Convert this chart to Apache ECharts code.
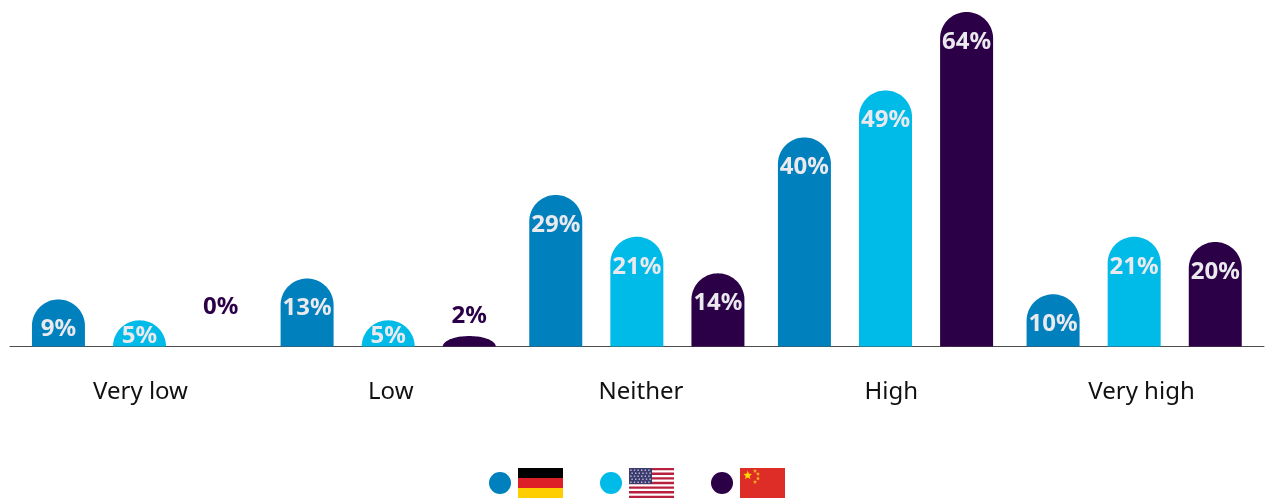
<!DOCTYPE html>
<html>
<head>
<meta charset="utf-8">
<style>html,body{margin:0;padding:0;background:#fff}#chart{width:1265px;height:498px}</style>
<script src="https://cdn.jsdelivr.net/npm/echarts@6/dist/echarts.min.js"></script>
</head>
<body>
<div id="chart"></div>
<script>
const categories = ['Very low', 'Low', 'Neither', 'High', 'Very high'];
const germany = [9, 13, 29, 40, 10];
const usa = [5, 5, 21, 49, 21];
const china = [0, 2, 14, 64, 20];
const seriesNames = ['Germany', 'USA', 'China'];
const seriesColors = ['#0080BC', '#00BAE8', '#2C0047'];

const FONT = '"Noto Sans", sans-serif';
const LABEL_LIGHT = '#E9E9EE';
const BAR_WIDTH = 53;

// Tall bars carry the figure inside the cap; short ones sit lower or move above the bar.
function labelPlacement(value, topY, baseY, color) {
  if (value === 0) return { y: baseY - 39, fill: color };
  if (value < 5) return { y: topY - 20, fill: color };
  if (value === 5) return { y: baseY - 10.5, fill: LABEL_LIGHT };
  return { y: topY + 30, fill: LABEL_LIGHT };
}

// Bar with an elliptical dome: the cap flattens when the bar is shorter than its half width.
function domePoints(left, right, topY, baseY) {
  const rx = (right - left) / 2;
  const ry = Math.min(rx, baseY - topY);
  const cx = (left + right) / 2;
  const pts = [[left, baseY]];
  for (let i = 0; i <= 48; i++) {
    const a = Math.PI - i * Math.PI / 48;
    pts.push([cx + rx * Math.cos(a), topY + ry - ry * Math.sin(a)]);
  }
  pts.push([right, baseY]);
  return pts;
}

function barSeries(name, values, color, index) {
  return {
    name, type: 'custom', xAxisIndex: 0, yAxisIndex: 0,
    itemStyle: { color },
    encode: { x: 0, y: 1 },
    data: values.map((v, i) => [i, v]),
    renderItem(params, api) {
      const value = api.value(1);
      const layout = api.barLayout({ count: seriesNames.length, barWidth: BAR_WIDTH, barGap: '53%' })[index];
      const top = api.coord([api.value(0), value]);
      const base = api.coord([api.value(0), 0]);
      const cx = base[0] + layout.offsetCenter;
      const place = labelPlacement(value, top[1], base[1], color);
      const children = [];
      if (value > 0) {
        children.push({
          type: 'polygon',
          shape: { points: domePoints(cx - BAR_WIDTH / 2, cx + BAR_WIDTH / 2, top[1], base[1]) },
          style: { fill: color }
        });
      }
      children.push({
        type: 'text',
        style: {
          text: value + '%', x: cx, y: place.y, fill: place.fill,
          align: 'center', verticalAlign: 'middle',
          font: 'bold 24px ' + FONT
        }
      });
      return { type: 'group', children };
    }
  };
}

// Flag artwork for the legend row.
function rect(x, y, w, h, fill) {
  return { type: 'rect', silent: true, shape: { x, y, width: w, height: h }, style: { fill } };
}
function germanFlag(x, y) {
  return [rect(x, y, 45, 10, '#000000'), rect(x, y + 10, 45, 10, '#DD2027'), rect(x, y + 20, 45, 10, '#FFCE00')];
}
function usFlag(x, y) {
  const stripe = 30 / 13;
  const out = [rect(x, y, 45, 30, '#FFFFFF')];
  for (let i = 0; i < 7; i++) out.push(rect(x, y + 2 * i * stripe, 45, stripe, '#B8203F'));
  out.push(rect(x, y, 23, 16, '#3C3B6E'));
  for (let r = 0; r < 5; r++) {
    for (let c = 0; c < 6; c++) {
      out.push(rect(x + 1.2 + c * 3.6 + (r % 2) * 1.2, y + 1.5 + r * 3, 1.4, 1.4, '#B9BBD6'));
    }
  }
  return out;
}
function chinaFlag(x, y) {
  const star = (cx, cy, r, fill) => ({ type: 'polygon', silent: true, style: { fill },
    shape: { points: Array.from({ length: 10 }, (_, i) => {
      const a = -Math.PI / 2 + i * Math.PI / 5, q = i % 2 ? r * 0.45 : r;
      return [cx + q * Math.cos(a), cy + q * Math.sin(a)];
    }) } });
  return [rect(x, y, 45, 30, '#DE2D26'), star(x + 7.7, y + 7.4, 4.6, '#FFD800'),
    star(x + 15, y + 3, 2.2, '#F5B41E'), star(x + 18, y + 6, 2.2, '#F5B41E'),
    star(x + 18, y + 10.5, 2.2, '#F5B41E'), star(x + 15, y + 14, 2.2, '#F5B41E')];
}

const chart = echarts.init(document.getElementById('chart'), null, { renderer: 'canvas' });
chart.setOption({
  animation: false,
  backgroundColor: '#fff',
  legend: {
    left: 489, top: 472, padding: 0, icon: 'circle',
    itemWidth: 22, itemHeight: 22, itemGap: 89,
    selectedMode: false, formatter: () => '',
    textStyle: { fontSize: 1, padding: 0 },
    data: seriesNames
  },
  grid: [
    { left: 15.2, width: 1243.3, top: 12, height: 334.5 },
    { left: 10, width: 1254, top: 12, height: 334.5 },
    { left: 140.5, width: 1001, top: 12, height: 334.5 }
  ],
  xAxis: [
    { type: 'category', gridIndex: 0, data: categories, axisLine: { show: false }, axisTick: { show: false }, axisLabel: { show: false } },
    { type: 'category', gridIndex: 1, data: categories, axisLine: { lineStyle: { color: '#4D4D4D', width: 1 } }, axisTick: { show: false }, axisLabel: { show: false } },
    { type: 'category', gridIndex: 2, data: categories, boundaryGap: false, axisLine: { show: false }, axisTick: { show: false },
      axisLabel: { margin: 34, fontFamily: FONT, fontSize: 24, color: '#111111', interval: 0 } }
  ],
  yAxis: [0, 1, 2].map(i => ({ type: 'value', gridIndex: i, min: 0, max: 64, show: false, splitLine: { show: false } })),
  graphic: [...germanFlag(518, 468), ...usFlag(629, 468), ...chinaFlag(740, 468)],
  series: [
    barSeries(seriesNames[0], germany, seriesColors[0], 0),
    barSeries(seriesNames[1], usa, seriesColors[1], 1),
    barSeries(seriesNames[2], china, seriesColors[2], 2)
  ]
});
</script>
</body>
</html>
